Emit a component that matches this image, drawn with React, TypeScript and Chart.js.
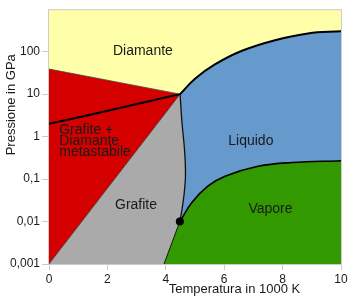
import React, { useEffect, useRef } from 'react';
import { Chart, registerables } from 'chart.js';

Chart.register(...registerables);

// ---- data (temperature in 1000 K, pressure in GPa) ----
const xTicks = [0, 2, 4, 6, 8, 10];
const yTicks = [0.001, 0.01, 0.1, 1, 10, 100];
const yTickLabels = ['0,001', '0,01', '0,1', '1', '10', '100'];

const triplePointHigh = { x: 4.49, y: 10 };
const triplePointLow = { x: 4.48, y: 0.01 };

const diamondGraphiteBoundary = [{ x: 0, y: 39 }, triplePointHigh];
const metastableBoundary = [{ x: 0, y: 0.001 }, triplePointHigh];
const kineticCurve = [
  { x: 0, y: 2.0 }, { x: 1.75, y: 3.7 }, { x: 3.46, y: 6.9 }, triplePointHigh,
];
const graphiteLiquid = [
  triplePointHigh, { x: 4.55, y: 2.3 }, { x: 4.65, y: 0.4 }, { x: 4.67, y: 0.1 },
  { x: 4.58, y: 0.025 }, triplePointLow,
];
const diamondLiquid = [
  triplePointHigh, { x: 5.0, y: 23 }, { x: 5.68, y: 50 },
  { x: 6.61, y: 105 }, { x: 7.74, y: 186 }, { x: 8.87, y: 269 }, { x: 10, y: 302 },
];
const vapourCurve = [
  triplePointLow, { x: 4.9, y: 0.0285 }, { x: 5.45, y: 0.069 },
  { x: 6.03, y: 0.117 }, { x: 7.16, y: 0.2 }, { x: 8.32, y: 0.245 }, { x: 10, y: 0.27 },
];
const graphiteVapour = [{ x: 3.94, y: 0.001 }, triplePointLow];

const labelTexts = ['Diamante', 'Grafite +', 'Diamante', 'metastabile', 'Liquido', 'Grafite', 'Vapore'];
const labelX = [2.19, 0.35, 0.35, 0.35, 6.14, 2.26, 6.83];
const labelY = [85, 1.15, 0.63, 0.35, 0.63, 0.0197, 0.0155];

const COLORS = {
  diamond: '#ffffaa',
  metastable: '#d40000',
  graphite: '#aaaaaa',
  liquid: '#6699cc',
  vapour: '#339900',
};
const FONT = '"Liberation Sans", Arial, sans-serif';

// regions: sequences of corner points and boundary lines (by key)
const regions = [
  { color: COLORS.metastable, parts: [{ pt: { x: 0, y: 0.001 } }, { pt: { x: 0, y: 39 } }, { pt: triplePointHigh }] },
  { color: COLORS.graphite, parts: [{ pt: { x: 0, y: 0.001 } }, { line: 'graphiteLiquid' }, { pt: { x: 3.94, y: 0.001 } }] },
  { color: COLORS.liquid, parts: [{ line: 'diamondLiquid' }, { line: 'vapour', rev: true }, { line: 'graphiteLiquid', rev: true }] },
  { color: COLORS.vapour, parts: [{ line: 'vapour' }, { pt: { x: 10, y: 0.001 } }, { line: 'graphiteVapour' }] },
];

function traceLine(ctx: any, pts: any[], rev: boolean, first: boolean) {
  const n = pts.length;
  const order = rev ? pts.slice().reverse() : pts;
  for (let j = 0; j < n; j++) {
    const p = order[j];
    if (j === 0) {
      if (first) ctx.moveTo(p.x, p.y);
      else ctx.lineTo(p.x, p.y);
      continue;
    }
    const q = order[j - 1];
    const c1x = rev ? q.cp1x : q.cp2x;
    const c1y = rev ? q.cp1y : q.cp2y;
    const c2x = rev ? p.cp2x : p.cp1x;
    const c2y = rev ? p.cp2y : p.cp1y;
    if (c1x === undefined || c2x === undefined) ctx.lineTo(p.x, p.y);
    else ctx.bezierCurveTo(c1x, c1y, c2x, c2y, p.x, p.y);
  }
}

const regionPlugin = {
  id: 'regions',
  beforeDatasetsDraw(chart: any) {
    const { ctx, chartArea: a, scales } = chart;
    ctx.save();
    ctx.beginPath();
    ctx.rect(a.left, a.top, a.right - a.left, a.bottom - a.top);
    ctx.clip();
    ctx.fillStyle = COLORS.diamond;
    ctx.fillRect(a.left, a.top, a.right - a.left, a.bottom - a.top);
    const metaByKey: any = {};
    chart.data.datasets.forEach((ds: any, i: number) => {
      if (!ds.key) return;
      const meta = chart.getDatasetMeta(i);
      if (meta.dataset && meta.dataset.updateControlPoints) meta.dataset.updateControlPoints(a, 'x');
      metaByKey[ds.key] = meta.data;
    });
    regions.forEach((r) => {
      ctx.beginPath();
      r.parts.forEach((part: any, k: number) => {
        if (part.pt) {
          const x = scales.x.getPixelForValue(part.pt.x);
          const y = scales.y.getPixelForValue(part.pt.y);
          if (k === 0) ctx.moveTo(x, y);
          else ctx.lineTo(x, y);
        } else {
          traceLine(ctx, metaByKey[part.line], !!part.rev, k === 0);
        }
      });
      ctx.closePath();
      ctx.fillStyle = r.color;
      ctx.fill();
    });
    ctx.restore();
  },
  afterDatasetsDraw(chart: any) {
    const { ctx, chartArea: a, scales } = chart;
    ctx.save();
    ctx.fillStyle = '#1a1a1a';
    ctx.font = `14px ${FONT}`;
    ctx.textAlign = 'left';
    ctx.textBaseline = 'alphabetic';
    labelTexts.forEach((t, i) => {
      ctx.fillText(t, scales.x.getPixelForValue(labelX[i]), scales.y.getPixelForValue(labelY[i]));
    });
    // frame
    ctx.strokeStyle = '#cccccc';
    ctx.lineWidth = 1;
    ctx.strokeRect(a.left - 0.5, a.top + 0.5, a.right - a.left + 1, a.bottom - a.top);
    // axis titles
    ctx.fillStyle = '#1a1a1a';
    ctx.font = `13px ${FONT}`;
    ctx.textAlign = 'center';
    ctx.fillText('Temperatura in 1000 K', a.left + (a.right - a.left) * 0.635, 293);
    ctx.translate(15, a.top + (a.bottom - a.top) * 0.375);
    ctx.rotate(-Math.PI / 2);
    ctx.fillText('Pressione in GPa', 0, 0);
    ctx.restore();
  },
};

const lineDs = (key: string, data: any[], width: number, color = '#000', tension = 0.4) => ({
  key,
  data,
  showLine: true,
  borderColor: color,
  borderWidth: width,
  pointRadius: 0,
  pointHoverRadius: 0,
  fill: false,
  tension,
});

export default function App() {
  const ref = useRef<HTMLCanvasElement>(null);
  useEffect(() => {
    document.body.style.margin = '0';
    const chart = new Chart(ref.current!, {
      type: 'scatter',
      data: {
        datasets: [
          { data: [triplePointLow], pointRadius: 4, pointBackgroundColor: '#000', pointBorderColor: '#000', borderWidth: 0 },
          lineDs('diamondLiquid', diamondLiquid, 2),
          lineDs('vapour', vapourCurve, 1.6),
          lineDs('kinetic', kineticCurve, 2),
          lineDs('graphiteLiquid', graphiteLiquid, 1.3, '#111'),
          lineDs('graphiteVapour', graphiteVapour, 1, '#111'),
          lineDs('metastable', metastableBoundary, 0.8, '#333'),
          lineDs('diamondGraphite', diamondGraphiteBoundary, 0.8, '#444'),
        ] as any,
      },
      options: {
        responsive: true,
        maintainAspectRatio: false,
        animation: false,
        events: [],
        layout: { padding: { top: 0, right: 9, bottom: 0, left: 0 } },
        plugins: { legend: { display: false }, tooltip: { enabled: false } },
        scales: {
          x: {
            type: 'linear',
            min: 0,
            max: 10,
            afterBuildTicks: (s: any) => { s.ticks = xTicks.map((v) => ({ value: v })); },
            ticks: { color: '#1a1a1a', font: { family: FONT, size: 12 }, padding: 2, autoSkip: false, maxRotation: 0 },
            grid: { display: true, drawOnChartArea: false, tickLength: 6, color: '#cccccc' },
            border: { display: true, color: '#cccccc' },
            afterFit: (s: any) => { s.height = 41; },
          },
          y: {
            type: 'logarithmic',
            min: 0.001,
            max: 1000,
            afterBuildTicks: (s: any) => { s.ticks = yTicks.map((v) => ({ value: v })); },
            ticks: {
              color: '#1a1a1a',
              font: { family: FONT, size: 12 },
              padding: 2,
              autoSkip: false,
              callback: (_v: any, i: number) => yTickLabels[i],
            },
            grid: { display: true, drawOnChartArea: false, tickLength: 7, color: '#cccccc' },
            border: { display: true, color: '#cccccc' },
            afterFit: (s: any) => { s.width = 49; },
          },
        },
      },
      plugins: [regionPlugin],
    } as any);
    return () => chart.destroy();
  }, []);
  return (
    <div style={{ width: 350, height: 305, position: 'relative' }}>
      <canvas ref={ref} />
    </div>
  );
}
